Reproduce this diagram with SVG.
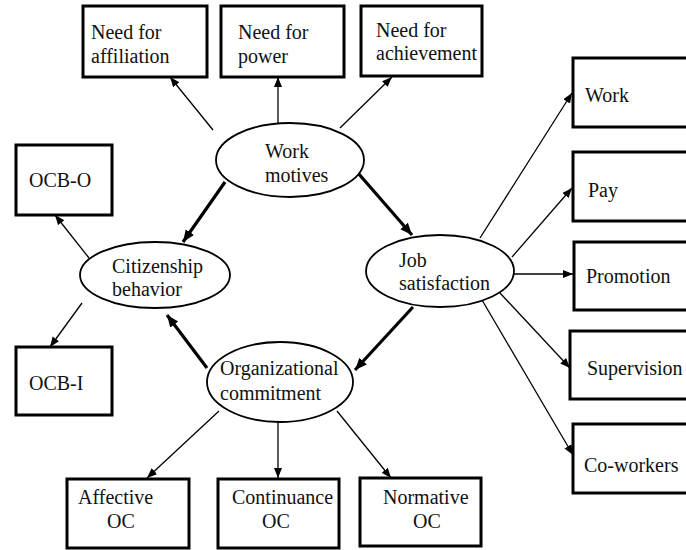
<svg xmlns="http://www.w3.org/2000/svg" width="686" height="550" viewBox="0 0 686 550" font-family="'Liberation Serif', 'Times New Roman', Times, 'DejaVu Serif', serif">
<style>
.box{fill:#fff;stroke:#000;stroke-width:3}
.ell{fill:#fff;stroke:#000;stroke-width:1.8}
text{font-family:'Liberation Serif','Times New Roman',Times,'DejaVu Serif',serif;font-size:20px;fill:#111}
.thin{stroke:#000;stroke-width:1.3;fill:none;marker-end:url(#a)}
.thick{stroke:#000;stroke-width:3.2;fill:none;marker-end:url(#b)}
</style>
<defs>
<marker id="a" markerUnits="userSpaceOnUse" markerWidth="12" markerHeight="10" refX="10" refY="5" orient="auto" viewBox="0 0 12 10"><path d="M0,1 L10,5 L0,9 Z" fill="#000"/></marker>
<marker id="b" markerUnits="userSpaceOnUse" markerWidth="14" markerHeight="12" refX="12" refY="6" orient="auto" viewBox="0 0 14 12"><path d="M0,1 L12,6 L0,11 Z" fill="#000"/></marker>
</defs>
<rect width="686" height="550" fill="#fff"/>
<g id="connectors">
<line class="thin" x1="213" y1="130" x2="170" y2="77"/>
<line class="thin" x1="278" y1="123" x2="278" y2="77"/>
<line class="thin" x1="340" y1="128" x2="392" y2="77"/>
<line class="thin" x1="480" y1="238" x2="572" y2="93"/>
<line class="thin" x1="512" y1="257" x2="572" y2="188"/>
<line class="thin" x1="514" y1="274" x2="573" y2="274"/>
<line class="thin" x1="500" y1="293" x2="570" y2="368"/>
<line class="thin" x1="482" y1="300" x2="573" y2="455"/>
<line class="thin" x1="89" y1="258" x2="55" y2="215"/>
<line class="thin" x1="82" y1="303" x2="50" y2="347"/>
<line class="thin" x1="219" y1="411" x2="147" y2="478"/>
<line class="thin" x1="278" y1="422" x2="278" y2="478"/>
<line class="thin" x1="337" y1="411" x2="391" y2="478"/>
<line class="thick" x1="225" y1="182" x2="183" y2="242"/>
<line class="thick" x1="358" y1="173" x2="412" y2="235"/>
<line class="thick" x1="413" y1="307" x2="355" y2="370"/>
<line class="thick" x1="207" y1="368" x2="167" y2="315"/>
</g>
<g id="need-affiliation"><rect class="box" x="83" y="6" width="124" height="71"/><text x="91" y="39">Need for</text><text x="91" y="63">affiliation</text></g>
<g id="need-power"><rect class="box" x="221" y="6" width="123" height="71"/><text x="238" y="39">Need for</text><text x="238" y="63">power</text></g>
<g id="need-achievement"><rect class="box" x="361" y="6" width="121" height="70"/><text x="376" y="37">Need for</text><text x="376" y="60">achievement</text></g>
<g id="work-motives"><ellipse class="ell" cx="290" cy="160" rx="74" ry="37"/><text x="265" y="158">Work</text><text x="265" y="182">motives</text></g>
<g id="ocb-o"><rect class="box" x="16" y="145" width="96" height="70"/><text x="29" y="187">OCB-O</text></g>
<g id="citizenship"><ellipse class="ell" cx="155" cy="275" rx="75" ry="33"/><text x="112" y="273">Citizenship</text><text x="112" y="296">behavior</text></g>
<g id="ocb-i"><rect class="box" x="16" y="347" width="96" height="68"/><text x="29" y="390">OCB-I</text></g>
<g id="job-satisfaction"><ellipse class="ell" cx="440" cy="271" rx="74" ry="36"/><text x="399" y="267">Job</text><text x="399" y="290">satisfaction</text></g>
<g id="org-commitment"><ellipse class="ell" cx="280" cy="382" rx="73" ry="40"/><text x="220" y="375">Organizational</text><text x="220" y="400">commitment</text></g>
<g id="work"><rect class="box" x="573" y="58" width="130" height="69"/><text x="585" y="102">Work</text></g>
<g id="pay"><rect class="box" x="573" y="152" width="130" height="69"/><text x="588" y="197">Pay</text></g>
<g id="promotion"><rect class="box" x="574" y="242" width="130" height="68"/><text x="586" y="283">Promotion</text></g>
<g id="supervision"><rect class="box" x="570" y="331" width="130" height="68"/><text x="587" y="375">Supervision</text></g>
<g id="co-workers"><rect class="box" x="573" y="424" width="130" height="69"/><text x="584" y="472">Co-workers</text></g>
<g id="affective"><rect class="box" x="67" y="479" width="122" height="69"/><text x="78" y="504">Affective</text><text x="107" y="528">OC</text></g>
<g id="continuance"><rect class="box" x="218" y="479" width="121" height="69"/><text x="232" y="504">Continuance</text><text x="262" y="528">OC</text></g>
<g id="normative"><rect class="box" x="360" y="478" width="121" height="68"/><text x="383" y="504">Normative</text><text x="413" y="528">OC</text></g>
</svg>
